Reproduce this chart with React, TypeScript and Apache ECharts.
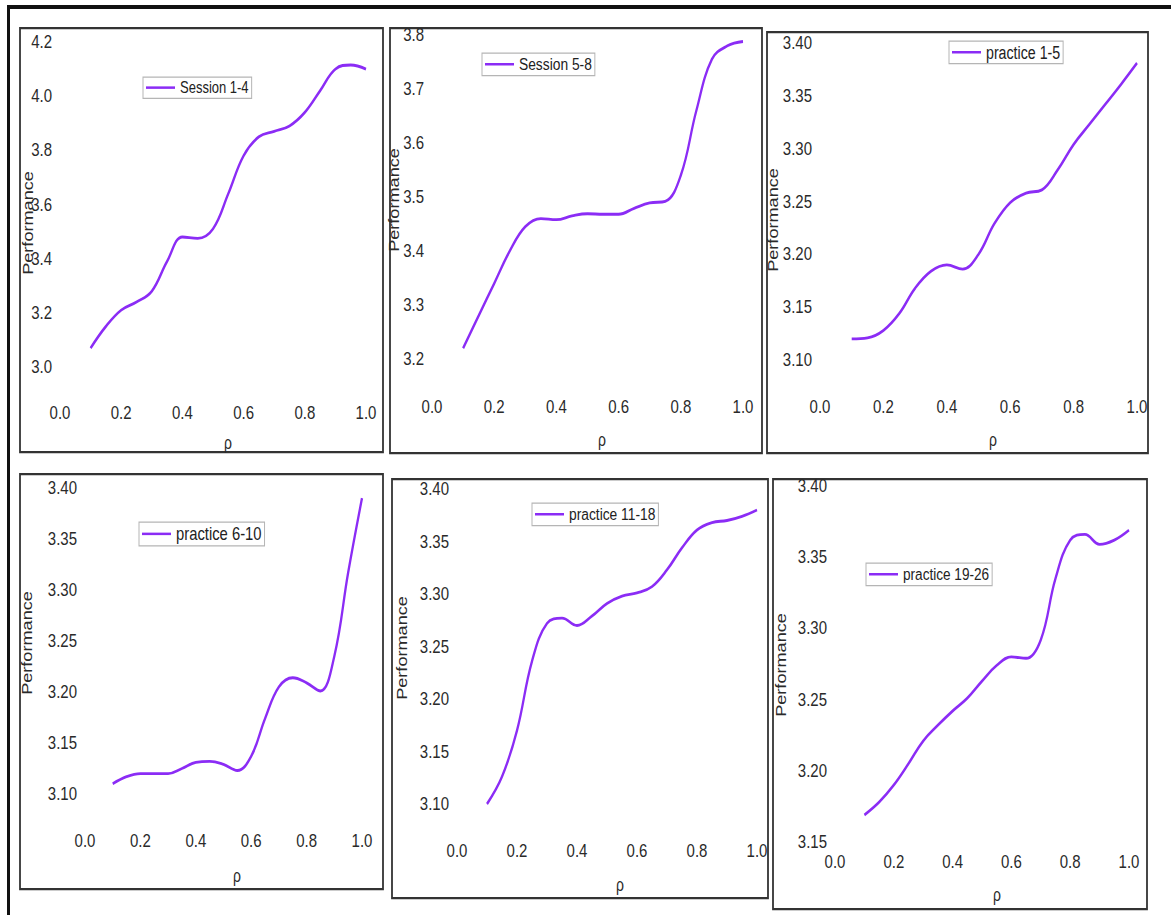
import React, { useEffect, useRef } from "react";
import * as echarts from "echarts";

// ---- data ----
const RHO = [0.1, 0.15, 0.2, 0.25, 0.3, 0.35, 0.4, 0.45, 0.5, 0.55, 0.6, 0.65, 0.7, 0.75, 0.8, 0.85, 0.9, 0.95, 1.0];

const SESSION_1_4 = [3.07, 3.15, 3.21, 3.24, 3.28, 3.39, 3.48, 3.475, 3.51, 3.64, 3.78, 3.85, 3.87, 3.89, 3.94, 4.02, 4.1, 4.115, 4.1];
const SESSION_5_8 = [3.22, 3.28, 3.34, 3.4, 3.445, 3.46, 3.458, 3.465, 3.469, 3.468, 3.468, 3.479, 3.489, 3.492, 3.54, 3.66, 3.755, 3.78, 3.788];
const PRACTICE_1_5 = [3.12, 3.121, 3.128, 3.144, 3.168, 3.184, 3.19, 3.186, 3.2, 3.229, 3.249, 3.258, 3.261, 3.28, 3.304, 3.323, 3.342, 3.361, 3.381];
const PRACTICE_6_10 = [3.11, 3.117, 3.12, 3.12, 3.12, 3.125, 3.131, 3.132, 3.129, 3.123, 3.137, 3.174, 3.205, 3.214, 3.209, 3.201, 3.235, 3.317, 3.39];
const PRACTICE_11_18 = [3.1, 3.126, 3.17, 3.236, 3.272, 3.277, 3.27, 3.279, 3.291, 3.298, 3.301, 3.307, 3.323, 3.344, 3.361, 3.368, 3.37, 3.374, 3.38];
const PRACTICE_19_26 = [3.169, 3.178, 3.19, 3.205, 3.221, 3.232, 3.242, 3.251, 3.263, 3.274, 3.28, 3.279, 3.292, 3.335, 3.362, 3.366, 3.359, 3.362, 3.369];

const SERIES_NAMES = ["Session 1-4", "Session 5-8", "practice 1-5", "practice 6-10", "practice 11-18", "practice 19-26"];
const SERIES_VALUES = [SESSION_1_4, SESSION_5_8, PRACTICE_1_5, PRACTICE_6_10, PRACTICE_11_18, PRACTICE_19_26];

// y axis ranges
const Y_MIN = [3.0, 3.2, 3.1, 3.1, 3.1, 3.15];
const Y_MAX = [4.2, 3.8, 3.4, 3.4, 3.4, 3.4];
const Y_STEP = [0.2, 0.1, 0.05, 0.05, 0.05, 0.05];
const Y_DEC = [1, 1, 2, 2, 2, 2];
const X_TICK_STEP = 0.2;
const X_NAME = "ρ";
const Y_NAME = "Performance";

// ---- layout (reference pixels; the picture is stretched vertically) ----
const S = 1.25; // vertical stretch of the whole figure
const W = 1171;
const H = 915;
const LAYOUT = [
  { grid: [60, 42, 306, 325], box: [20, 28, 363, 424], legend: [143, 77], legendFs: 13, xLabY: 413, xNameY: 445, xNameShift: 15, yNameX: 28, yNameShift: 18.5 },
  { grid: [432, 35, 311, 324], box: [390, 28, 372, 425], legend: [482, 53], legendFs: 13.8, xLabY: 407, xNameY: 442, xNameShift: 14.5, yNameX: 394, yNameShift: 3 },
  { grid: [820, 43, 317, 317], box: [767, 32, 381, 421], legend: [949, 41], legendFs: 14.2, xLabY: 407, xNameY: 442, xNameShift: 14.5, yNameX: 773, yNameShift: 18.5 },
  { grid: [85, 488, 277, 306], box: [20, 474, 363, 415], legend: [139, 522], legendFs: 14.8, xLabY: 841, xNameY: 878, xNameShift: 13.5, yNameX: 27, yNameShift: 2 },
  { grid: [457, 489, 300, 315], box: [392, 479, 376, 419], legend: [532, 503], legendFs: 13.8, xLabY: 851, xNameY: 887, xNameShift: 13, yNameX: 402, yNameShift: 1.5 },
  { grid: [835, 486, 294, 356], box: [773, 479, 374, 430], legend: [866, 563], legendFs: 13.6, xLabY: 862, xNameY: 897, xNameShift: 15, yNameX: 781, yNameShift: 1 },
];

const FONT = "'Liberation Sans',Arial,Helvetica,sans-serif";
const LINE_COLOR = "#8b2cf5";
const TEXT_COLOR = "#2a2a2a";
const TICK_FS = 15;
const NAME_FS = 14.5;

function buildOption() {
  const grid = LAYOUT.map((l) => ({
    left: l.grid[0],
    top: l.grid[1] / S,
    width: l.grid[2],
    height: l.grid[3] / S,
    containLabel: false,
  }));

  const xAxis = LAYOUT.map((l, i) => {
    const bottom = l.grid[1] + l.grid[3];
    return {
      gridIndex: i,
      type: "value",
      min: 0,
      max: 1,
      interval: X_TICK_STEP,
      name: X_NAME,
      nameLocation: "middle",
      nameMoveOverlap: false,
      nameGap: (l.xNameY - bottom) / S - 9,
      nameTextStyle: { fontFamily: FONT, fontSize: 14, color: TEXT_COLOR, padding: [0, 0, 0, 2 * l.xNameShift] },
      axisLine: { show: false },
      axisTick: { show: false },
      splitLine: { show: false },
      axisLabel: {
        margin: (l.xLabY - bottom) / S - TICK_FS / 2,
        fontFamily: FONT,
        fontSize: TICK_FS,
        color: TEXT_COLOR,
        formatter: (v: number) => v.toFixed(1),
      },
    };
  });

  const yAxis = LAYOUT.map((l, i) => ({
    gridIndex: i,
    type: "value",
    min: Y_MIN[i],
    max: Y_MAX[i],
    interval: Y_STEP[i],
    name: Y_NAME,
    nameLocation: "middle",
    nameMoveOverlap: false,
    nameGap: l.grid[0] - l.yNameX - NAME_FS / 2,
    nameTextStyle: { fontFamily: FONT, fontSize: NAME_FS, color: TEXT_COLOR, padding: [0, (2 * l.yNameShift) / S, 0, 0] },
    axisLine: { show: false },
    axisTick: { show: false },
    splitLine: { show: false },
    axisLabel: {
      margin: 8,
      fontFamily: FONT,
      fontSize: TICK_FS,
      color: TEXT_COLOR,
      formatter: (v: number) => v.toFixed(Y_DEC[i]),
    },
  }));

  const series = SERIES_NAMES.map((name, i) => ({
    name,
    type: "line",
    xAxisIndex: i,
    yAxisIndex: i,
    data: RHO.map((r, j) => [r, SERIES_VALUES[i][j]]),
    smooth: 0.4,
    symbol: "none",
    lineStyle: { color: LINE_COLOR, width: 2.3 },
    itemStyle: { color: LINE_COLOR },
  }));

  const legend = LAYOUT.map((l, i) => ({
    data: [{ name: SERIES_NAMES[i], icon: "rect" }],
    left: l.legend[0],
    top: l.legend[1] / S,
    orient: "horizontal",
    selectedMode: false,
    itemWidth: 29,
    itemHeight: 2,
    padding: [2, 3, 2, 3],
    borderColor: "#b5b5b5",
    borderWidth: 1,
    backgroundColor: "#ffffff",
    textStyle: { fontFamily: FONT, fontSize: l.legendFs, color: "#222" },
  }));

  const graphic: any[] = LAYOUT.map((l) => ({
    type: "rect",
    silent: true,
    shape: { x: l.box[0], y: l.box[1] / S, width: l.box[2], height: l.box[3] / S },
    style: { fill: "none", stroke: "#333", lineWidth: 1.8 },
  }));
  graphic.push({
    type: "line",
    silent: true,
    shape: { x1: 7, y1: 7 / S, x2: W, y2: 7 / S },
    style: { stroke: "#111", lineWidth: 3.2 },
  });
  graphic.push({
    type: "line",
    silent: true,
    shape: { x1: 8.5, y1: 5.8 / S, x2: 8.5, y2: H / S },
    style: { stroke: "#111", lineWidth: 3 },
  });

  return {
    animation: false,
    backgroundColor: "#ffffff",
    grid,
    xAxis,
    yAxis,
    series,
    legend,
    graphic,
  };
}

export default function App() {
  const ref = useRef<HTMLDivElement>(null);
  useEffect(() => {
    if (!ref.current) return;
    const chart = echarts.init(ref.current, undefined, { renderer: "svg" });
    chart.setOption(buildOption() as any);
    return () => chart.dispose();
  }, []);
  return (
    <div
      ref={ref}
      style={{
        position: "absolute",
        left: 0,
        top: 0,
        width: W,
        height: H / S,
        transform: `scaleY(${S})`,
        transformOrigin: "0 0",
      }}
    />
  );
}
